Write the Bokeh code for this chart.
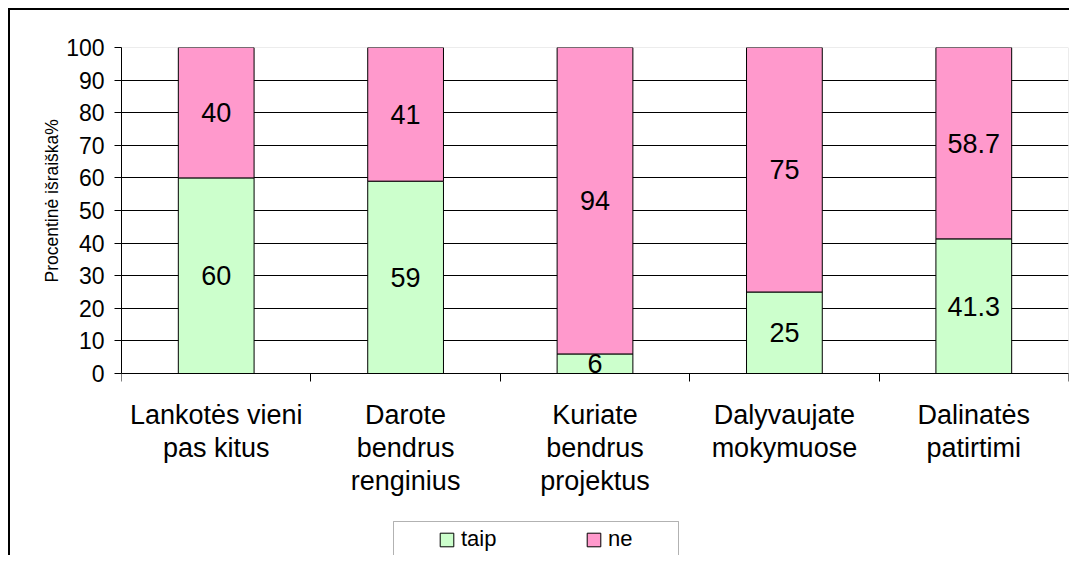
from bokeh.plotting import figure
from bokeh.models import (FixedTicker, Legend, LegendItem, ColumnDataSource, Range1d,
                          BoxAnnotation, Title)
from bokeh.embed import file_html
from bokeh.resources import INLINE
from bokeh.core.properties import value

categories = ["Lankotės vieni\npas kitus", "Darote\nbendrus\nrenginius",
              "Kuriate\nbendrus\nprojektus", "Dalyvaujate\nmokymuose", "Dalinatės\npatirtimi"]
taip = [60, 59, 6, 25, 41.3]
ne = [40, 41, 94, 75, 58.7]
series_names = ["taip", "ne"]
y_ticks = [0, 10, 20, 30, 40, 50, 60, 70, 80, 90, 100]
y_label = "Procentinė išraiška%"

GREEN = "#CCFFCC"
PINK = "#FF99CC"
FONT = "Liberation Sans"

# layout (pixels)
W, H = 1061, 547
TOP, LEFT, RIGHT = 37, 111, 3
PLOT_H = 326                     # pixels spanned by 0..100
y_min = y_ticks[0] - (H - TOP - PLOT_H) * (y_ticks[-1] - y_ticks[0]) / PLOT_H
LEGEND_BOX = dict(left=272, right=557, top=36, bottom=1)   # frame pixels (from bottom-left)

n = len(categories)
xs = [i + 0.5 for i in range(n)]
total = [a + b for a, b in zip(taip, ne)]
src = ColumnDataSource(dict(
    x=xs, taip=taip, ne=ne, total=total,
    y_taip=[a / 2 for a in taip],
    y_ne=[a + b / 2 for a, b in zip(taip, ne)],
    t_taip=[f"{v:g}" for v in taip],
    t_ne=[f"{v:g}" for v in ne],
))

p = figure(width=W, height=H, output_backend="svg", toolbar_location=None,
           x_range=Range1d(0, n), y_range=Range1d(y_min, y_ticks[-1]),
           min_border_left=LEFT, min_border_right=RIGHT, min_border_top=TOP,
           min_border_bottom=0,
           background_fill_color="white", border_fill_color="white",
           styles={"margin-left": "8px", "margin-top": "8px",
                   "border-left": "2px solid black", "border-top": "2px solid black"})

p.outline_line_color = None
p.xgrid.grid_line_color = None
p.ygrid.grid_line_color = "black"
p.ygrid.grid_line_width = 1

# grey plot-area border (0..100, all categories)
p.add_layout(BoxAnnotation(left=0, right=n, bottom=y_ticks[0], top=y_ticks[-1],
                           fill_alpha=0, line_color="#808080", line_width=1,
                           level="underlay"))

r1 = p.vbar(x="x", bottom=0, top="taip", width=0.4, source=src,
            fill_color=GREEN, line_color="black", line_width=1)
r2 = p.vbar(x="x", bottom="taip", top="total", width=0.4, source=src,
            fill_color=PINK, line_color="black", line_width=1)

for ycol, tcol in (("y_taip", "t_taip"), ("y_ne", "t_ne")):
    p.text(x="x", y=ycol, text=tcol, source=src, text_font=value(FONT),
           text_font_size="27px", text_align="center", text_baseline="middle",
           text_color="black")

# y axis
ya = p.yaxis[0]
ya.ticker = FixedTicker(ticks=y_ticks)
ya.bounds = (y_ticks[0], y_ticks[-1])
ya.major_tick_in = 0
ya.major_tick_out = 7
ya.minor_tick_out = 0
ya.minor_tick_in = 0
ya.axis_line_color = "black"
ya.major_tick_line_color = "black"
ya.major_label_text_font = FONT
ya.major_label_text_font_size = "23px"
ya.major_label_text_color = "black"
ya.major_label_standoff = 10

# y-axis title, placed beside the 0..100 part of the axis
p.add_layout(Title(text=y_label, align="left", offset=275, standoff=4,
                   text_font=FONT, text_font_size="17.5px", text_font_style="normal",
                   text_color="black"), "left")

# x axis, drawn at y = 0
xa = p.xaxis[0]
xa.fixed_location = 0
xa.ticker = FixedTicker(ticks=xs, minor_ticks=list(range(n + 1)))
xa.major_label_overrides = {x: c for x, c in zip(xs, categories)}
xa.major_tick_out = 0
xa.major_tick_in = 0
xa.minor_tick_out = 8
xa.minor_tick_in = 0
xa.minor_tick_line_color = "black"
xa.axis_line_color = "black"
xa.major_label_text_font = FONT
xa.major_label_text_font_size = "27px"
xa.major_label_text_color = "black"
xa.major_label_text_line_height = 1.1
xa.major_label_standoff = 18

# legend frame
p.add_layout(BoxAnnotation(left_units="screen", right_units="screen",
                           top_units="screen", bottom_units="screen",
                           fill_color="white", fill_alpha=1,
                           line_color="black", line_width=1, **LEGEND_BOX))

legend = Legend(items=[LegendItem(label=series_names[0], renderers=[r1]),
                       LegendItem(label=series_names[1], renderers=[r2])],
                orientation="horizontal", location=(317, 5), margin=0,
                label_text_font=FONT, label_text_font_size="22px",
                label_text_color="black",
                glyph_width=17, glyph_height=17, label_standoff=6,
                label_width=60, spacing=64, padding=5,
                border_line_color=None, background_fill_alpha=0)
p.add_layout(legend)

open("out.html", "w").write(file_html(p, INLINE))
